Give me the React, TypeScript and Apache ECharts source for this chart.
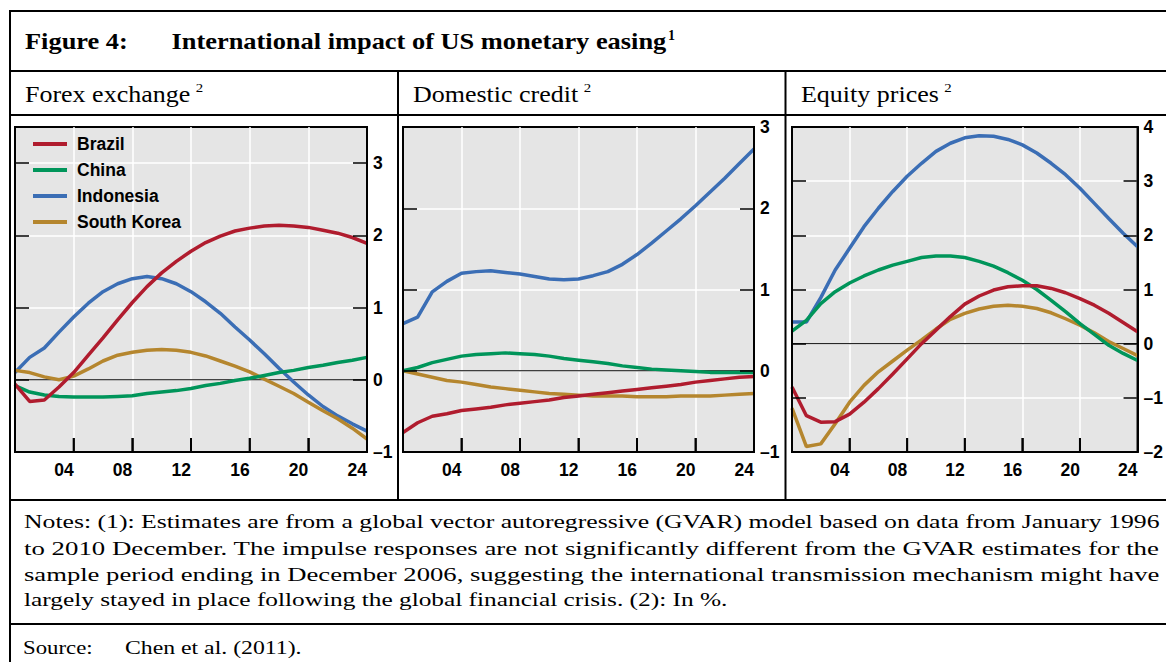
import React, { useEffect, useRef } from "react";
import * as echarts from "echarts";

// ---------- data ----------
const HORIZON = [0, 1, 2, 3, 4, 5, 6, 7, 8, 9, 10, 11, 12, 13, 14, 15, 16, 17, 18, 19, 20, 21, 22, 23, 24];
const X_TICKS = [4, 8, 12, 16, 20];
const COUNTRIES = ["Brazil", "China", "Indonesia", "South Korea"];

const FOREX_BRAZIL = [-0.06, -0.3, -0.28, -0.1, 0.1, 0.34, 0.58, 0.83, 1.07, 1.29, 1.48, 1.64, 1.78, 1.9, 1.99, 2.06, 2.1, 2.13, 2.14, 2.13, 2.11, 2.07, 2.03, 1.97, 1.89];
const FOREX_CHINA = [-0.08, -0.17, -0.21, -0.23, -0.24, -0.24, -0.24, -0.23, -0.22, -0.19, -0.17, -0.15, -0.12, -0.08, -0.05, -0.01, 0.02, 0.06, 0.1, 0.13, 0.17, 0.2, 0.24, 0.27, 0.31];
const FOREX_INDONESIA = [0.1, 0.31, 0.44, 0.66, 0.87, 1.06, 1.22, 1.33, 1.4, 1.43, 1.4, 1.33, 1.22, 1.08, 0.92, 0.73, 0.55, 0.36, 0.16, -0.03, -0.21, -0.37, -0.5, -0.61, -0.71];
const FOREX_KOREA = [0.13, 0.1, 0.04, 0.0, 0.05, 0.15, 0.26, 0.34, 0.38, 0.41, 0.42, 0.41, 0.38, 0.33, 0.26, 0.19, 0.11, 0.01, -0.09, -0.19, -0.31, -0.43, -0.54, -0.67, -0.82];

const CREDIT_BRAZIL = [-0.76, -0.64, -0.56, -0.53, -0.49, -0.47, -0.45, -0.42, -0.4, -0.38, -0.36, -0.33, -0.31, -0.29, -0.27, -0.25, -0.23, -0.21, -0.19, -0.17, -0.14, -0.12, -0.1, -0.08, -0.07];
const CREDIT_CHINA = [0, 0.04, 0.1, 0.14, 0.18, 0.2, 0.21, 0.22, 0.21, 0.2, 0.18, 0.15, 0.13, 0.11, 0.09, 0.06, 0.04, 0.02, 0.01, 0, -0.01, -0.02, -0.02, -0.02, -0.02];
const CREDIT_INDONESIA = [0.58, 0.66, 0.97, 1.1, 1.2, 1.22, 1.23, 1.21, 1.19, 1.16, 1.13, 1.12, 1.13, 1.17, 1.22, 1.31, 1.43, 1.57, 1.72, 1.87, 2.03, 2.2, 2.37, 2.55, 2.73];
const CREDIT_KOREA = [0, -0.04, -0.08, -0.12, -0.14, -0.17, -0.2, -0.22, -0.24, -0.26, -0.28, -0.29, -0.3, -0.31, -0.31, -0.31, -0.32, -0.32, -0.32, -0.31, -0.31, -0.31, -0.3, -0.29, -0.28];

const EQUITY_BRAZIL = [-0.8, -1.33, -1.45, -1.44, -1.3, -1.08, -0.83, -0.56, -0.28, 0, 0.25, 0.5, 0.73, 0.88, 0.99, 1.05, 1.07, 1.07, 1.02, 0.94, 0.83, 0.71, 0.56, 0.39, 0.22];
const EQUITY_CHINA = [0.23, 0.43, 0.74, 0.96, 1.12, 1.25, 1.36, 1.45, 1.52, 1.59, 1.62, 1.62, 1.59, 1.52, 1.43, 1.31, 1.17, 1.0, 0.8, 0.59, 0.37, 0.17, -0.03, -0.18, -0.31];
const EQUITY_INDONESIA = [0.4, 0.4, 0.85, 1.36, 1.76, 2.16, 2.5, 2.81, 3.09, 3.33, 3.55, 3.7, 3.8, 3.84, 3.83, 3.77, 3.67, 3.52, 3.33, 3.12, 2.87, 2.59, 2.31, 2.04, 1.79];
const EQUITY_KOREA = [-1.19, -1.9, -1.85, -1.48, -1.08, -0.77, -0.52, -0.32, -0.12, 0.07, 0.27, 0.45, 0.56, 0.64, 0.69, 0.71, 0.69, 0.65, 0.57, 0.46, 0.34, 0.2, 0.04, -0.09, -0.22];

const PANEL_TITLES = ["Forex exchange", "Domestic credit", "Equity prices"];
const Y_MIN = [-1, -1, -2];
const Y_MAX = [3.5, 3, 4];

const TITLE_LABEL = "Figure 4:";
const TITLE_TEXT = "International impact of US monetary easing";
const NOTE_LINES = [
  "Notes: (1): Estimates are from a global vector autoregressive (GVAR) model based on data from January 1996",
  "to 2010 December. The impulse responses are not significantly different from the GVAR estimates for the",
  "sample period ending in December 2006, suggesting the international transmission mechanism might have",
  "largely stayed in place following the global financial crisis. (2): In %.",
];
const SOURCE_LABEL = "Source:";
const SOURCE_TEXT = "Chen et al. (2011).";

// ---------- styles ----------
const COLORS: Record<string, string> = {
  Brazil: "#b01c2e",
  China: "#00955a",
  Indonesia: "#3b6eb5",
  "South Korea": "#b5862e",
};
const DRAW_ORDER = ["Indonesia", "South Korea", "China", "Brazil"];
const SANS = '"Liberation Sans", Arial, Helvetica, sans-serif';
const SERIF = '"Liberation Serif", "Times New Roman", serif';
const GRIDS = [
  { left: 15, top: 127, width: 352, height: 325 },
  { left: 403, top: 127, width: 351, height: 325 },
  { left: 792, top: 127, width: 351, height: 325 },
];
const PANEL_TEXT_X = [25, 413, 801];
const TICK_LEN = 14;

function measure(text: string, font: string): number {
  const c = document.createElement("canvas");
  const ctx = c.getContext("2d");
  if (!ctx) return text.length * 8;
  ctx.font = font;
  return ctx.measureText(text).width;
}

function buildGraphic(): any[] {
  const line = (x1: number, y1: number, x2: number, y2: number) => ({
    type: "line",
    shape: { x1, y1, x2, y2 },
    style: { stroke: "#000", lineWidth: 2 },
    silent: true,
  });
  const graphic: any[] = [
    line(10, 11, 1180, 11),
    line(10, 10, 10, 680),
    line(10, 71, 1180, 71),
    line(10, 115, 1180, 115),
    line(398, 71, 398, 500),
    line(785.5, 71, 785.5, 500),
    line(10, 500, 1180, 500),
    line(10, 624, 1180, 624),
  ];

  const text = (str: string, x: number, y: number, size: number, weight: string, scaleX: number) => ({
    type: "text",
    x,
    y,
    scaleX,
    silent: true,
    style: {
      text: str,
      fontFamily: SERIF,
      fontSize: size,
      fontWeight: weight,
      fill: "#000",
      align: "left",
      verticalAlign: "middle",
    },
  });

  const titleScale = 1.1;
  graphic.push(text(TITLE_LABEL, 25, 40.5, 24, "bold", titleScale));
  graphic.push(text(TITLE_TEXT, 171.5, 40.5, 24, "bold", titleScale));
  const tW = measure(TITLE_TEXT, `bold 24px ${SERIF}`) * titleScale;
  graphic.push(text("1", 171.5 + tW + 1.5, 35, 14, "bold", 1));

  const headScale = 1.13;
  PANEL_TITLES.forEach((t, i) => {
    graphic.push(text(t, PANEL_TEXT_X[i], 94, 23, "normal", headScale));
    const w = measure(t, `normal 23px ${SERIF}`) * headScale;
    graphic.push(text("2", PANEL_TEXT_X[i] + w + 5.5, 87.5, 13.5, "normal", 1.1));
  });

  const noteY = [522, 548, 574, 600];
  const noteTarget = [1136, 1136, 1136, 704];
  NOTE_LINES.forEach((t, i) => {
    const w = measure(t, `normal 19px ${SERIF}`);
    graphic.push(text(t, 24, noteY[i], 19, "normal", noteTarget[i] / w));
  });

  graphic.push(text(SOURCE_LABEL, 23, 648, 19, "normal", 1.2));
  graphic.push(text(SOURCE_TEXT, 125, 648, 19, "normal", 1.25));
  return graphic;
}

function buildOption() {
  const panels = [
    { Brazil: FOREX_BRAZIL, China: FOREX_CHINA, Indonesia: FOREX_INDONESIA, "South Korea": FOREX_KOREA },
    { Brazil: CREDIT_BRAZIL, China: CREDIT_CHINA, Indonesia: CREDIT_INDONESIA, "South Korea": CREDIT_KOREA },
    { Brazil: EQUITY_BRAZIL, China: EQUITY_CHINA, Indonesia: EQUITY_INDONESIA, "South Korea": EQUITY_KOREA },
  ];

  const labelStyle = { fontFamily: SANS, fontWeight: "bold" as const, fontSize: 17.5, color: "#000" };
  const tickStyle = { show: true, inside: true, length: TICK_LEN, lineStyle: { color: "#000", width: 1.5 } };
  const whiteSplit = { show: true, showMinLine: false, showMaxLine: false, lineStyle: { color: "#fff", width: 1.5 } };
  const noLine = { show: false, onZero: false };
  const borderLine = { show: true, onZero: false, lineStyle: { color: "#000", width: 2 } };

  const grid = GRIDS.map((g) => ({
    ...g,
    show: true,
    backgroundColor: "#e5e5e5",
    borderColor: "#000",
    borderWidth: 2,
  }));

  const xAxis: any[] = [];
  GRIDS.forEach((_, i) => {
    xAxis.push({
      type: "value",
      gridIndex: i,
      position: "top",
      min: 0,
      max: 24,
      interval: 4,
      z: 0,
      axisLine: noLine,
      axisTick: { show: false },
      axisLabel: { show: false },
      splitLine: whiteSplit,
    });
  });
  GRIDS.forEach((_, i) => {
    xAxis.push({
      type: "value",
      gridIndex: i,
      position: "bottom",
      min: 0,
      max: 24,
      interval: 4,
      z: 5,
      axisLine: borderLine,
      axisTick: tickStyle,
      axisLabel: {
        ...labelStyle,
        align: "right",
        margin: 9,
        formatter: (v: number) => (v === 0 ? "" : String(v).padStart(2, "0")),
      },
      splitLine: { show: false },
    });
  });

  const yAxis: any[] = [];
  GRIDS.forEach((_, i) => {
    yAxis.push({
      type: "value",
      gridIndex: i,
      position: "left",
      min: Y_MIN[i],
      max: Y_MAX[i],
      interval: 1,
      z: 0,
      axisLine: noLine,
      axisTick: { show: false },
      axisLabel: { show: false },
      splitLine: whiteSplit,
    });
  });
  GRIDS.forEach((_, i) => {
    yAxis.push({
      type: "value",
      gridIndex: i,
      position: "right",
      min: Y_MIN[i],
      max: Y_MAX[i],
      interval: 1,
      z: 5,
      axisLine: borderLine,
      axisTick: tickStyle,
      axisLabel: {
        ...labelStyle,
        margin: 6,
        formatter: (v: number) => (Number.isInteger(v) ? (v < 0 ? "\u2013" + Math.abs(v) : String(v)) : ""),
      },
      splitLine: { show: false },
    });
  });
  GRIDS.forEach((_, i) => {
    yAxis.push({
      type: "value",
      gridIndex: i,
      position: "left",
      min: Y_MIN[i],
      max: Y_MAX[i],
      interval: 1,
      z: 5,
      axisLine: borderLine,
      axisTick: tickStyle,
      axisLabel: { show: false },
      splitLine: { show: false },
    });
  });

  const series: any[] = [];
  panels.forEach((p: any, i) => {
    series.push({
      name: "zero",
      type: "line",
      xAxisIndex: 3 + i,
      yAxisIndex: 3 + i,
      data: [[HORIZON[0], 0], [HORIZON[HORIZON.length - 1], 0]],
      showSymbol: false,
      symbol: "none",
      silent: true,
      z: 1,
      lineStyle: { color: "#000", width: 1 },
      itemStyle: { color: "#000" },
    });
    DRAW_ORDER.forEach((name) => {
      const vals: number[] = p[name];
      series.push({
        name,
        type: "line",
        xAxisIndex: 3 + i,
        yAxisIndex: 3 + i,
        data: HORIZON.map((h, k) => [h, vals[k]]),
        showSymbol: false,
        symbol: "none",
        z: 2,
        color: COLORS[name],
        lineStyle: { color: COLORS[name], width: 3.5 },
        itemStyle: { color: COLORS[name] },
      });
    });
  });

  return {
    animation: false,
    backgroundColor: "#fff",
    grid,
    xAxis,
    yAxis,
    series,
    legend: {
      data: COUNTRIES,
      orient: "vertical",
      left: 33,
      top: 135,
      padding: 0,
      itemWidth: 34,
      itemHeight: 4,
      itemGap: 8,
      icon: "rect",
      selectedMode: false,
      textStyle: { ...labelStyle, lineHeight: 18, padding: [0, 0, 0, 5] },
    },
    graphic: buildGraphic(),
  };
}

export default function App() {
  const ref = useRef<HTMLDivElement>(null);
  useEffect(() => {
    const el = ref.current;
    if (!el) return;
    const chart = echarts.init(el, null, { renderer: "svg" });
    chart.setOption(buildOption() as any);
    // bottom tick marks: positions taken from the library's own scales
    const ticks: any[] = [];
    GRIDS.forEach((_, i) => {
      const y0 = chart.convertToPixel({ yAxisIndex: 3 + i } as any, Y_MIN[i]) as unknown as number;
      X_TICKS.forEach((t) => {
        const x0 = chart.convertToPixel({ xAxisIndex: 3 + i } as any, t) as unknown as number;
        if (typeof x0 === "number" && typeof y0 === "number" && isFinite(x0) && isFinite(y0)) {
          ticks.push({
            type: "rect",
            z: 100,
            silent: true,
            shape: { x: x0 - 1, y: y0 - TICK_LEN, width: 2, height: TICK_LEN },
            style: { fill: "#000" },
          });
        }
      });
    });
    if (ticks.length) {
      chart.setOption({ graphic: [...buildGraphic(), ...ticks] } as any, { replaceMerge: ["graphic"] } as any);
    }
    return () => chart.dispose();
  }, []);
  return (
    <div
      ref={ref}
      style={{ position: "fixed", left: 0, top: 0, width: 1166, height: 662, background: "#fff", overflow: "hidden" }}
    />
  );
}
